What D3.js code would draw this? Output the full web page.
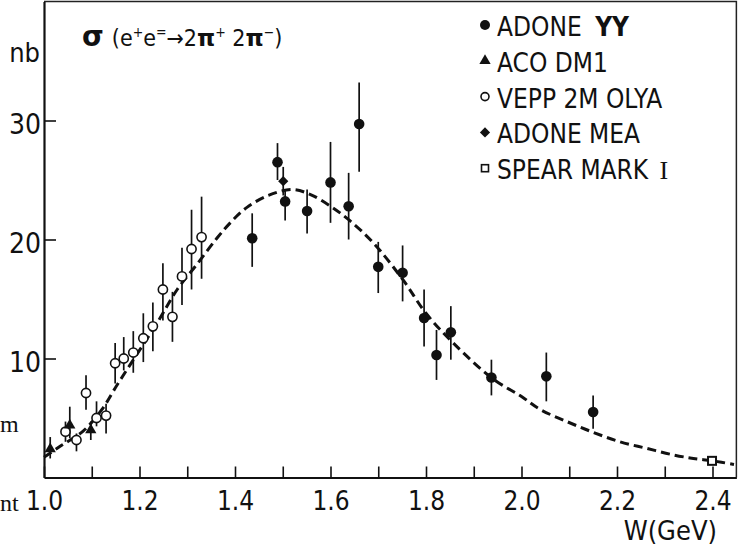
<!DOCTYPE html>
<html>
<head>
<meta charset="utf-8">
<script src="https://cdn.jsdelivr.net/npm/d3@7"></script>
<style>
  body { margin: 0; background: #fff; }
  svg { display: block; }
  text { font-family: "Liberation Sans Narrow", "DejaVu Sans Condensed", sans-serif; fill: #111; }
</style>
</head>
<body>
<div id="chart"></div>
<script>
// values: W in GeV, sigma in nb, error bar [low, high]
var adoneGG_x  = [1.436, 1.489, 1.505, 1.551, 1.600, 1.638, 1.660, 1.700, 1.751, 1.796, 1.822, 1.852, 1.937, 2.052, 2.150];
var adoneGG_y  = [20.1, 26.5, 23.2, 22.4, 24.8, 22.8, 29.7, 17.7, 17.2, 13.4, 10.3, 12.2, 8.4, 8.5, 5.5];
var adoneGG_lo = [17.7, 25.0, 21.6, 20.5, 21.4, 20.0, 25.7, 15.5, 14.8, 11.0, 8.2, 9.9, 6.9, 6.4, 4.1];
var adoneGG_hi = [22.2, 28.1, 24.2, 24.2, 28.2, 25.6, 33.2, 19.8, 19.5, 15.8, 12.4, 14.4, 9.9, 10.5, 6.9];

var aco_x  = [1.013, 1.054, 1.098];
var aco_y  = [2.4, 4.4, 4.0];
var aco_lo = [1.6, 3.3, 3.15];
var aco_hi = [3.4, 5.95, 4.7];

var vepp_x  = [1.045, 1.068, 1.088, 1.110, 1.130, 1.149, 1.167, 1.187, 1.208, 1.228, 1.249, 1.269, 1.289, 1.309, 1.330];
var vepp_y  = [3.85, 3.15, 7.1, 5.0, 5.2, 9.6, 10.0, 10.5, 11.7, 12.7, 15.8, 13.5, 16.9, 19.2, 20.2];
var vepp_lo = [3.0, 2.2, 5.7, 4.3, 3.7, 7.9, 9.0, 8.8, 9.7, 10.6, 13.2, 11.4, 14.5, 15.8, 16.7];
var vepp_hi = [4.7, 3.7, 8.6, 6.4, 6.2, 11.3, 11.8, 12.3, 13.8, 14.7, 18.0, 15.6, 19.3, 22.5, 23.6];

var mea_x  = [1.501];
var mea_y  = [24.9];
var mea_lo = [23.7];
var mea_hi = [26.1];

var spear_x = [2.399];
var spear_y = [1.4];

// dashed fit curve
var curve_x = [1.0, 1.033, 1.082, 1.121, 1.155, 1.237, 1.279, 1.32, 1.362, 1.39, 1.425, 1.47, 1.52, 1.557, 1.60, 1.64, 1.69, 1.752, 1.80, 1.857, 1.94, 2.00, 2.04, 2.095, 2.15, 2.206, 2.262, 2.318, 2.36, 2.40, 2.445];
var curve_y = [1.7, 2.6, 3.9, 5.7, 7.9, 13.0, 15.8, 17.9, 20.1, 21.4, 22.7, 23.7, 24.2, 23.8, 22.8, 21.6, 19.7, 16.6, 13.8, 11.3, 8.3, 6.8, 5.7, 4.7, 3.8, 3.0, 2.45, 1.9, 1.6, 1.4, 1.1];

var xTicks = [1.0, 1.1, 1.2, 1.3, 1.4, 1.5, 1.6, 1.7, 1.8, 1.9, 2.0, 2.1, 2.2, 2.3, 2.4];
var xTickLabels = ["1.0", "", "1.2", "", "1.4", "", "1.6", "", "1.8", "", "2.0", "", "2.2", "", "2.4"];
var yTicks = [10, 20, 30];

var legendNames = ["ADONE ", "ACO DM1", "VEPP 2M OLYA", "ADONE MEA", "SPEAR MARK "];
var legendSymbols = ["dot", "tri", "ring", "diamond", "square"];

var W = 753, H = 546;
var svg = d3.select("#chart").append("svg")
    .attr("width", W)
    .attr("height", H);

var x = d3.scaleLinear().domain([1.0, 2.4]).range([44, 712.5]);
var y = d3.scaleLinear().domain([0, 40]).range([477.5, 1.5]);
var xEnd = x(2.45);

// frame (top and right)
svg.append("path")
    .attr("d", "M" + x(1.0) + "," + y(40) + "H" + xEnd + "V" + y(0))
    .attr("fill", "none")
    .attr("stroke", "#222")
    .attr("stroke-width", 1.5);

var xAxis = svg.append("g")
    .attr("transform", "translate(0," + y(0) + ")")
    .call(d3.axisBottom(x.copy().domain([1.0, 2.45]).range([x(1.0), xEnd]))
        .tickValues(xTicks)
        .tickFormat(function(d, i) { return xTickLabels[i]; })
        .tickSizeInner(-11)
        .tickSizeOuter(0));
xAxis.select(".domain").attr("stroke", "#111").attr("stroke-width", 2.2);
xAxis.selectAll(".tick line").attr("stroke", "#111").attr("stroke-width", 1.6);
xAxis.selectAll(".tick text")
    .attr("y", 32)
    .attr("dy", 0)
    .attr("fill", "#111")
    .style("font-size", "26px")
    .style("font-family", "'Liberation Sans Narrow', 'DejaVu Sans Condensed', sans-serif");

var yAxis = svg.append("g")
    .attr("transform", "translate(" + x(1.0) + ",0)")
    .call(d3.axisLeft(y)
        .tickValues(yTicks)
        .tickSizeInner(-12)
        .tickSizeOuter(0)
        .tickPadding(3));
yAxis.select(".domain").attr("stroke", "#111").attr("stroke-width", 2.2);
yAxis.selectAll(".tick line").attr("stroke", "#111").attr("stroke-width", 1.6);
yAxis.selectAll(".tick text")
    .attr("dy", "0.45em")
    .attr("fill", "#111")
    .style("font-size", "28px")
    .style("font-family", "'Liberation Sans Narrow', 'DejaVu Sans Condensed', sans-serif");

svg.append("text")
    .attr("x", 40).attr("y", 62)
    .attr("text-anchor", "end")
    .style("font-size", "27px")
    .text("nb");

svg.append("text")
    .attr("x", 717).attr("y", 540)
    .attr("text-anchor", "end")
    .style("font-size", "27px")
    .text("W(GeV)");

// bits of the page text cut off at the left edge
svg.append("text").attr("x", 0).attr("y", 432)
    .style("font-family", "'Liberation Serif', 'DejaVu Serif', serif")
    .style("font-size", "24px").text("m");
svg.append("text").attr("x", 0).attr("y", 511)
    .style("font-family", "'Liberation Serif', 'DejaVu Serif', serif")
    .style("font-size", "24px").text("nt");

// title
var title = svg.append("text").attr("x", 82).attr("y", 46).style("font-size", "23px");
title.append("tspan").style("font-weight", "bold").style("font-size", "28px")
    .style("font-family", "'DejaVu Sans', sans-serif").text("σ");
title.append("tspan").attr("dx", 8).text("(e");
title.append("tspan").attr("dy", -9).style("font-size", "14px").text("+");
title.append("tspan").attr("dy", 9).text("e");
title.append("tspan").attr("dy", -9).style("font-size", "14px").text("=");
title.append("tspan").attr("dy", 9).text("→2");
title.append("tspan").style("font-weight", "bold").style("font-family", "'DejaVu Sans', sans-serif").text("π");
title.append("tspan").attr("dy", -9).style("font-size", "14px").text("+");
title.append("tspan").attr("dy", 9).text(" 2");
title.append("tspan").style("font-weight", "bold").style("font-family", "'DejaVu Sans', sans-serif").text("π");
title.append("tspan").attr("dy", -9).style("font-size", "14px").text("−");
title.append("tspan").attr("dy", 9).text(")");

// fit curve
var line = d3.line()
    .x(function(d) { return x(d[0]); })
    .y(function(d) { return y(d[1]); })
    .curve(d3.curveCatmullRom.alpha(0.5));

svg.append("path")
    .datum(d3.zip(curve_x, curve_y))
    .attr("fill", "none")
    .attr("stroke", "#111")
    .attr("stroke-width", 3)
    .attr("stroke-dasharray", "9,5")
    .attr("d", line);

function drawBars(xs, ys, lo, hi) {
  svg.append("g").selectAll("line")
      .data(d3.range(xs.length))
    .enter().append("line")
      .attr("x1", function(i) { return x(xs[i]); })
      .attr("x2", function(i) { return x(xs[i]); })
      .attr("y1", function(i) { return y(lo[i]); })
      .attr("y2", function(i) { return y(hi[i]); })
      .attr("stroke", "#111")
      .attr("stroke-width", 1.7);
}

var symbols = {
  dot: function(g) { g.append("circle").attr("r", 5.3).attr("fill", "#111"); },
  ring: function(g) { g.append("circle").attr("r", 4.6).attr("fill", "#fff").attr("stroke", "#111").attr("stroke-width", 1.6); },
  tri: function(g) { g.append("path").attr("d", d3.symbol(d3.symbolTriangle, 55)()).attr("fill", "#111"); },
  diamond: function(g) { g.append("path").attr("d", d3.symbol(d3.symbolSquare, 52)()).attr("transform", "rotate(45)").attr("fill", "#111"); },
  square: function(g) { g.append("rect").attr("x", -4).attr("y", -4).attr("width", 8).attr("height", 8).attr("fill", "#fff").attr("stroke", "#111").attr("stroke-width", 2); }
};

function drawPoints(xs, ys, kind) {
  xs.forEach(function(v, i) {
    var g = svg.append("g").attr("transform", "translate(" + x(v) + "," + y(ys[i]) + ")");
    symbols[kind](g);
  });
}

drawBars(vepp_x, vepp_y, vepp_lo, vepp_hi);
drawBars(aco_x, aco_y, aco_lo, aco_hi);
drawBars(adoneGG_x, adoneGG_y, adoneGG_lo, adoneGG_hi);
drawBars(mea_x, mea_y, mea_lo, mea_hi);

drawPoints(vepp_x, vepp_y, "ring");
drawPoints(aco_x, aco_y, "tri");
drawPoints(adoneGG_x, adoneGG_y, "dot");
drawPoints(mea_x, mea_y, "diamond");
drawPoints(spear_x, spear_y, "square");

// legend
var legend = svg.append("g").attr("class", "legend");
legendNames.forEach(function(name, i) {
  var base = 36 + i * 35.8;
  var g = legend.append("g").attr("transform", "translate(485," + (base - 11) + ")");
  symbols[legendSymbols[i]](g);
  if (legendSymbols[i] == "dot") g.select("circle").attr("r", 5);
  if (legendSymbols[i] == "ring") g.select("circle").attr("r", 4);
  if (legendSymbols[i] == "square") g.select("rect").attr("x", -3.5).attr("y", -3.5).attr("width", 7).attr("height", 7).attr("stroke-width", 1.6);
  var t = legend.append("text")
      .attr("x", 497)
      .attr("y", base)
      .style("font-size", "26px")
      .text(name);
  if (i == 0) t.append("tspan").style("font-weight", "bold").attr("dx", 6).text("YY");
  if (i == 4) t.append("tspan").style("font-family", "'Liberation Serif', 'DejaVu Serif', serif").attr("dx", 4).text("I");
});
</script>
</body>
</html>
